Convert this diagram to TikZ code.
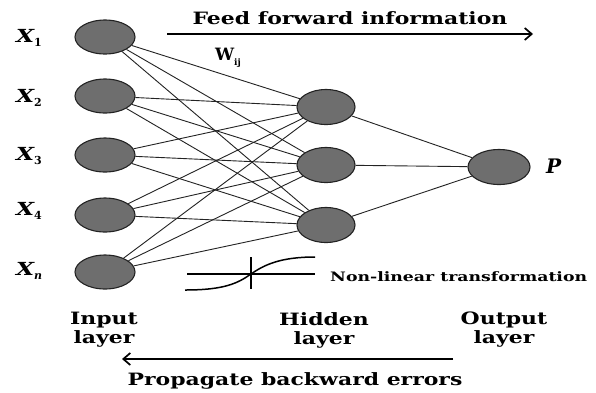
\documentclass[tikz,border=0pt]{standalone}
\usepackage{fontspec}
\setmainfont{DejaVu Serif}
\usetikzlibrary{arrows.meta,shapes.geometric}
\definecolor{nodegray}{RGB}{110,110,110}
\definecolor{edgedark}{RGB}{35,35,35}
\newcommand\wx[1]{\scalebox{1.29}[1]{#1}}
\newcommand\wxx[1]{\scalebox{1.33}[1]{#1}}
\newcommand\xsub[1]{\raisebox{-0.45ex}{\fontsize{11}{11}\selectfont #1}}
\tikzset{
  neuron/.style={ellipse, draw=edgedark, line width=1.1pt, fill=nodegray, minimum width=60pt, minimum height=34pt, inner sep=0pt},
  wire/.style={draw=edgedark, line width=0.9pt},
  bigarrow/.style={draw=black, line width=1.7pt, -{Straight Barb[length=7pt,width=12pt,line width=1.7pt]}},
  lbl/.style={font=\fontsize{17}{17}\selectfont\bfseries, inner sep=0pt},
  layerlbl/.style={font=\fontsize{17}{19}\selectfont\bfseries, align=center, inner sep=0pt},
  xlbl/.style={font=\fontsize{18}{18}\selectfont\bfseries\itshape, inner sep=0pt, anchor=west},
  sig/.style={line width=1.5pt, black}
}
\begin{document}
\begin{tikzpicture}[x=1pt,y=-1pt]
\useasboundingbox[fill=white] (0,0) rectangle (596,392);
% input nodes
\node[neuron] (i1) at (105,37) {};
\node[neuron] (i2) at (105,96) {};
\node[neuron] (i3) at (105,155) {};
\node[neuron] (i4) at (105,215) {};
\node[neuron] (i5) at (105,272) {};
% hidden
\node[neuron, minimum width=58pt, minimum height=35pt] (h1) at (326,107) {};
\node[neuron, minimum width=58pt, minimum height=35pt] (h2) at (326,165) {};
\node[neuron, minimum width=58pt, minimum height=35pt] (h3) at (326,225) {};
% output
\node[neuron, minimum width=62pt, minimum height=35pt] (o) at (499,167) {};
% connections
\foreach \i in {i1,i2,i3,i4,i5}{
  \foreach \h in {h1,h2,h3}{
    \draw[wire] (\i) -- (\h);
  }
}
\foreach \h in {h1,h2,h3}{\draw[wire] (\h) -- (o);}
% labels
\node[xlbl] (x1) at (16,38) {\wx{X}\xsub{\upshape 1}};
\node[xlbl] (x2) at (16,98) {\wx{X}\xsub{\upshape 2}};
\node[xlbl] (x3) at (16,156) {\wx{X}\xsub{\upshape 3}};
\node[xlbl] (x4) at (16,211) {\wx{X}\xsub{\upshape 4}};
\node[xlbl] (x5) at (16,271) {\wx{X}\xsub{n}};
\node[xlbl, font=\fontsize{20}{20}\selectfont\bfseries\itshape] (p) at (546,166) {P};
\node[lbl] (w) at (228,58) {W\raisebox{-0.5ex}{\fontsize{9}{9}\selectfont ij}};
% feed forward arrow
\coordinate (ffs) at (167,34);
\coordinate (ffe) at (533,34);
\draw[bigarrow] (ffs) -- (ffe);
\node[lbl] (fft) at (350,18) {\wx{Feed forward information}};
% back arrow
\coordinate (bbs) at (453,359);
\coordinate (bbe) at (122,359);
\draw[bigarrow] (bbs) -- (bbe);
\node[lbl] (bbt) at (295,381) {\wx{Propagate backward errors}};
% layer labels
\node[layerlbl] (il) at (104,330) {\wx{Input}\\\wx{layer}};
\node[layerlbl] (hl) at (324,330) {\wx{Hidden}\\\wx{layer}};
\node[layerlbl] (ol) at (504,330) {\wx{Output}\\\wx{layer}};
% sigmoid symbol
\coordinate (s1) at (187,274);
\coordinate (s2) at (315,274);
\coordinate (s3) at (251,257);
\coordinate (s4) at (251,289);
\draw[sig] (s1) -- (s2);
\draw[sig] (s3) -- (s4);
\coordinate (c0) at (185,290);
\coordinate (cm) at (251,274);
\coordinate (c1) at (315,257);
\draw[sig] (c0) .. controls (225,290) and (238,283) .. (cm) .. controls (264,265) and (280,257) .. (c1);
\node[font=\fontsize{13}{13}\selectfont\bfseries, anchor=west, inner sep=0pt] (nl) at (330,277) {\wxx{Non-linear transformation}};
\end{tikzpicture}
\end{document}
